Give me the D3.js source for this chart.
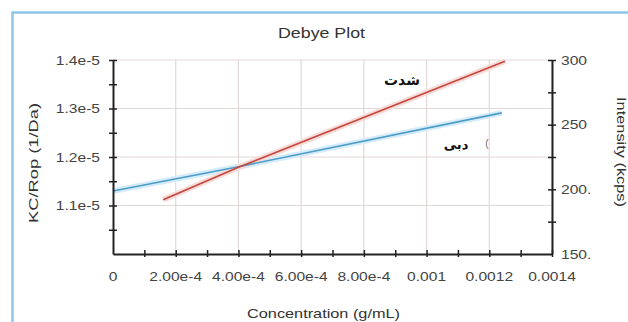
<!DOCTYPE html>
<html><head><meta charset="utf-8">
<script src="https://cdn.jsdelivr.net/npm/d3@7"></script>
<style>body{margin:0;background:#fff}svg{display:block}</style>
</head><body><svg id="c" width="628" height="322"></svg>
<script>
// data
const conc = [0, 0.0004, 0.00124];
const kcRop = [1.130e-5, 1.180e-5, 1.291e-5];
const concI = [0.00016, 0.0004, 0.00125];
const intensity = [192, 217, 299];
const xTicks = [0, 0.0002, 0.0004, 0.0006, 0.0008, 0.001, 0.0012, 0.0014];
const xTickLabels = ["0", "2.00e-4", "4.00e-4", "6.00e-4", "8.00e-4", "0.001", "0.0012", "0.0014"];
const yTicks = [1.1e-5, 1.2e-5, 1.3e-5, 1.4e-5];
const yTickLabels = ["1.1e-5", "1.2e-5", "1.3e-5", "1.4e-5"];
const y2Ticks = [150, 200, 250, 300];
const y2TickLabels = ["150.", "200.", "250", "300"];
const labels = {title: "Debye Plot", x: "Concentration (g/mL)", y: "KC/Rop (1/Da)", y2: "Intensity (kcps)", red: "شدت", blue: "دبی"};

const svg = d3.select("#c");
const L = 113, R = 552, T = 60, B = 254;
const x = d3.scaleLinear().domain([0, 0.0014]).range([L, R]);
const y = d3.scaleLinear().domain([1.0e-5, 1.4e-5]).range([B, T]);
const y2 = d3.scaleLinear().domain([150, 300]).range([B, T]);
const font = "'Liberation Sans', Arial, sans-serif";
const SX = 1.3;

// frame
svg.append("path").attr("d", `M12.5,322 V12.5 H628`).attr("fill", "none").attr("stroke", "#8cc6ea").attr("stroke-width", 2.5);

// grid
const g = svg.append("g");
g.selectAll("line.v").data(xTicks.slice(1)).join("line")
  .attr("x1", d => x(d)).attr("x2", d => x(d)).attr("y1", T).attr("y2", B)
  .attr("stroke", "#e3d8d8").attr("stroke-width", 1.2);
g.selectAll("line.h").data(yTicks).join("line")
  .attr("x1", L).attr("x2", R).attr("y1", d => y(d)).attr("y2", d => y(d))
  .attr("stroke", "#e3d8d8").attr("stroke-width", 1.2);

// lines
const lineB = d3.line().x((d, i) => x(conc[i])).y(d => y(d));
const lineR = d3.line().x((d, i) => x(concI[i])).y(d => y2(d));
svg.append("path").attr("d", lineB(kcRop)).attr("fill", "none").attr("stroke", "#d6ecf8").attr("stroke-width", 6);
svg.append("path").attr("d", lineR(intensity)).attr("fill", "none").attr("stroke", "#f6dcd9").attr("stroke-width", 6);
svg.append("path").attr("d", lineB(kcRop)).attr("fill", "none").attr("stroke", "#4b9cc9").attr("stroke-width", 1.6);
svg.append("path").attr("d", lineR(intensity)).attr("fill", "none").attr("stroke", "#c4463d").attr("stroke-width", 1.6);

// axes
const xAxis = d3.axisBottom(x).tickValues(d3.range(1, 15).map(i => i * 0.0001)).tickSize(0).tickFormat("");
const ax = svg.append("g").attr("transform", `translate(0,${B})`).call(xAxis);
ax.select(".domain").attr("stroke", "#222").attr("stroke-width", 2);
ax.selectAll(".tick line").attr("y1", -4).attr("y2", 3).attr("stroke", "#222").attr("stroke-width", 1.5);
svg.append("g").selectAll("text").data(xTicks).join("text")
  .attr("transform", d => `translate(${x(d)},281) scale(${SX},1)`).attr("text-anchor", "middle")
  .attr("font-family", font).attr("font-size", 12).attr("fill", "#444")
  .text((d, i) => xTickLabels[i]);

const yAxis = d3.axisLeft(y).tickValues(d3.range(1, 9).map(i => 1.0e-5 + i * 0.05e-5)).tickSize(0).tickFormat("");
const ay = svg.append("g").attr("transform", `translate(${L},0)`).call(yAxis);
ay.select(".domain").attr("stroke", "#222").attr("stroke-width", 2);
ay.selectAll(".tick line").attr("x1", -4).attr("x2", 4).attr("stroke", "#222").attr("stroke-width", 1.5);
svg.append("g").selectAll("text").data(yTicks).join("text")
  .attr("transform", d => `translate(100,${y(d) + 4.5}) scale(${SX},1)`).attr("text-anchor", "end")
  .attr("font-family", font).attr("font-size", 12).attr("fill", "#444")
  .text((d, i) => yTickLabels[i]);

const y2Axis = d3.axisRight(y2).tickValues(d3.range(1, 7).map(i => 150 + i * 25)).tickSize(0).tickFormat("");
const ay2 = svg.append("g").attr("transform", `translate(${R},0)`).call(y2Axis);
ay2.select(".domain").attr("stroke", "#222").attr("stroke-width", 2);
ay2.selectAll(".tick line").attr("x1", -4).attr("x2", 4).attr("stroke", "#222").attr("stroke-width", 1.5);
svg.append("g").selectAll("text").data(y2Ticks).join("text")
  .attr("transform", d => `translate(561,${y2(d) + 4.5}) scale(${SX},1)`).attr("text-anchor", "start")
  .attr("font-family", font).attr("font-size", 12).attr("fill", "#444")
  .text((d, i) => y2TickLabels[i]);

// titles
svg.append("text").attr("x", 278).attr("y", 38).attr("textLength", 87).attr("lengthAdjust", "spacingAndGlyphs")
  .attr("font-family", font).attr("font-size", 14).attr("fill", "#333").text(labels.title);
svg.append("text").attr("x", 247).attr("y", 318).attr("textLength", 153).attr("lengthAdjust", "spacingAndGlyphs")
  .attr("font-family", font).attr("font-size", 13).attr("fill", "#333").text(labels.x);
svg.append("text").attr("transform", "translate(38,223) rotate(-90)").attr("textLength", 120).attr("lengthAdjust", "spacingAndGlyphs")
  .attr("font-family", font).attr("font-size", 13).attr("fill", "#333").text(labels.y);
svg.append("text").attr("transform", "translate(617,97) rotate(90)").attr("textLength", 110).attr("lengthAdjust", "spacingAndGlyphs")
  .attr("font-family", font).attr("font-size", 13).attr("fill", "#333").text(labels.y2);

// annotations
svg.append("text").attr("x", 402).attr("y", 85).attr("text-anchor", "middle").attr("direction", "rtl")
  .attr("font-family", "'DejaVu Sans', sans-serif").attr("font-weight", "bold").attr("font-size", 14).attr("fill", "#111").text(labels.red);
svg.append("text").attr("x", 456).attr("y", 149).attr("text-anchor", "middle").attr("direction", "rtl")
  .attr("font-family", "'DejaVu Sans', sans-serif").attr("font-weight", "bold").attr("font-size", 13).attr("fill", "#111").text(labels.blue);
svg.append("text").attr("x", 487).attr("y", 147).attr("text-anchor", "middle")
  .attr("font-family", font).attr("font-size", 10).attr("fill", "#666").text("(");
</script></body></html>
